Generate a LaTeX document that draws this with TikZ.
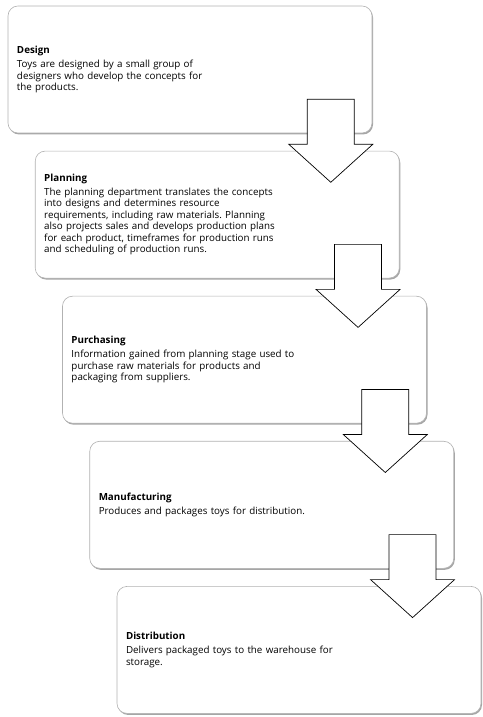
\documentclass[tikz,border=0pt]{standalone}
\usepackage{fontspec}
\setmainfont{Open Sans}
\usetikzlibrary{positioning,calc,shadows}
\frenchspacing

\tikzstyle{stage-box}=[draw=black!30, line width=0.6bp, fill=white, rounded corners=10bp,
  minimum width=364bp, minimum height=127bp, text width=346bp, inner xsep=9bp, align=left,
  font=\fontsize{9.8bp}{11.5bp}\selectfont,
  drop shadow={shadow xshift=1bp, shadow yshift=-1.5bp, fill=black, opacity=0.35}]
\tikzstyle{flow-arrow}=[draw=black, line width=0.7bp, fill=white]

\begin{document}
\begin{tikzpicture}[x=1bp, y=1bp, node distance=17.5bp]
    \useasboundingbox (0,0) rectangle (483,717);
    \node[stage-box] (design) at (190,647.5) {\textbf{Design}\\[2.5bp]
      Toys are designed by a small group of\\
      designers who develop the concepts for\\
      the products.};
    \node[stage-box] (plan)  [below=of design, xshift=27.25bp] {\textbf{Planning}\\[2.5bp]
      The planning department translates the concepts\\
      into designs and determines resource\\
      requirements, including raw materials. Planning\\
      also projects sales and develops production plans\\
      for each product, timeframes for production runs\\
      and scheduling of production runs.};
    \node[stage-box] (purch) [below=of plan,  xshift=27.25bp] {\textbf{Purchasing}\\[2.5bp]
      Information gained from planning stage used to\\
      purchase raw materials for products and\\
      packaging from suppliers.};
    \node[stage-box] (manuf) [below=of purch, xshift=27.25bp] {\textbf{Manufacturing}\\[2.5bp]
      Produces and packages toys for distribution.};
    \node[stage-box] (distr) [below=of manuf, xshift=27.25bp] {\textbf{Distribution}\\[2.5bp]
      Delivers packaged toys to the warehouse for\\
      storage.};
    \foreach \stage in {design,plan,purch,manuf}
      \draw[flow-arrow, shift={($(\stage.south east)+(-41.5,0)$)}]
        (-23.5,34) -- (23.5,34) -- (23.5,-11) -- (42,-11) -- (0,-49)
        -- (-42,-11) -- (-23.5,-11) -- cycle;
  \end{tikzpicture}
\end{document}
